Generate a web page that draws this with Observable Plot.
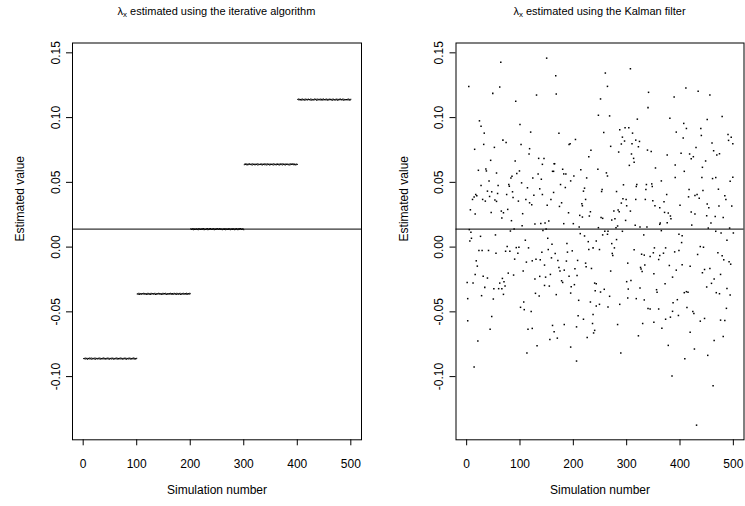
<!DOCTYPE html>
<html><head><meta charset="utf-8">
<script src="https://cdn.jsdelivr.net/npm/d3@7"></script>
<script src="https://cdn.jsdelivr.net/npm/@observablehq/plot@0.6"></script>
<style>
body{margin:0;background:#fff;font-family:"Liberation Sans",Arial,Helvetica,sans-serif;}
#wrap{position:relative;width:745px;height:506px;overflow:hidden;background:#fff}
.panel{position:absolute;top:0}
.title{position:absolute;top:5px;font-size:11px;line-height:13px;white-space:nowrap;transform:translateX(-50%);color:#000}
.title sub{font-size:0.72em;vertical-align:-0.3em;line-height:0}
</style></head>
<body><div id="wrap"></div>
<script>
// ---- data ----
const xTicks = [0, 100, 200, 300, 400, 500];
const yTicks = [-0.10, -0.05, 0.00, 0.05, 0.10, 0.15];
const simLimits = [-19.96, 519.96];
const yLimits = [-0.1488, 0.1576];
const referenceLine = 0.0139;
const titles = ["estimated using the iterative algorithm", "estimated using the Kalman filter"];
const xLabel = "Simulation number";
const yLabel = "Estimated value";

// iterative algorithm: 5 blocks of 100 simulations, level per block plus small read deviations (digit d -> (d-5)*0.00018)
const groupLevels = [-0.086, -0.036, 0.014, 0.064, 0.114];
const groupDeviations = [
  "5463745265 3746273546 3726453647 3625463746 2536473625 4637462536 4736254637 4625364736 2546374625 3647362546",
  "4537264536 5473645263 7453627456 3647253645 7364526374 5637426354 6374526347 5362745364 7253647354 6372546375",
  "6354726354 4635274635 5364725346 4725364735 3647253647 6354736452 5463725463 3746254637 4526374526 3647536452",
  "3647525364 7453627453 6354726354 4736254736 5263745263 6453726453 3746352746 5274635274 4635263746 5637425364",
  "5736452637 4526374536 6453726354 3746527364 4637526374 5364725364 7453627453 3647253647 6354726354 4536472536"
];

// Kalman filter estimates: [simulation, value]
const kalman = [
[64,0.1428],[150,0.1459],[4,0.1241],[62,0.1236],[49,0.1187],[131,0.1174],[92,0.1126],[24,0.0975],[27,0.0934],[100,0.0947],
[33,0.0880],[120,0.0888],[68,0.0826],[74,0.0808],[32,0.0793],[102,0.0793],[15,0.0755],[52,0.0770],[118,0.0760],[117,0.0718],
[135,0.0685],[145,0.0685],[45,0.0670],[91,0.0665],[142,0.0639],[164,0.0644],[22,0.0593],[36,0.0603],[37,0.0588],[56,0.0572],
[99,0.0588],[94,0.0568],[134,0.0565],[163,0.0585],
[307,0.1377],[167,0.1323],[260,0.1344],[264,0.1241],[168,0.1182],[341,0.1195],[251,0.1144],[340,0.1077],[247,0.1018],[268,0.1013],
[320,0.0988],[173,0.0880],[257,0.0885],[287,0.0906],[297,0.0921],[304,0.0921],[311,0.0880],[292,0.0849],[204,0.0831],[192,0.0793],
[194,0.0798],[296,0.0819],[317,0.0826],[324,0.0816],[290,0.0796],[310,0.0798],[270,0.0778],[322,0.0775],[233,0.0747],[339,0.0749],
[346,0.0739],[285,0.0734],[309,0.0719],[229,0.0698],[313,0.0685],[314,0.0655],[165,0.0644],[305,0.0631],[180,0.0601],[214,0.0598],
[246,0.0601],[161,0.0585],[182,0.0565],[186,0.0565],[262,0.0573],
[411,0.1228],[434,0.1203],[389,0.1159],[456,0.1174],[381,0.0995],[451,0.0985],[479,0.1008],[407,0.0955],[412,0.0916],[439,0.0916],
[393,0.0888],[440,0.0862],[490,0.0870],[496,0.0849],[406,0.0842],[491,0.0824],[499,0.0798],[460,0.0803],[430,0.0770],[463,0.0744],
[474,0.0721],[469,0.0711],[376,0.0711],[402,0.0724],[418,0.0719],[425,0.0698],[421,0.0683],[448,0.0665],[442,0.0616],[391,0.0634],
[408,0.0585],[354,0.0611],
[85,0.0547],[83,0.0534],[124,0.0534],[140,0.0524],[42,0.0511],[27,0.0476],[59,0.0476],[79,0.0483],[80,0.0470],[103,0.0496],
[114,0.0458],[137,0.0450],[163,0.0422],[39,0.0432],[47,0.0427],[58,0.0414],[75,0.0406],[86,0.0427],[17,0.0406],[19,0.0396],
[14,0.0386],[11,0.0368],[43,0.0391],[30,0.0368],[35,0.0355],[53,0.0363],[56,0.0353],[87,0.0383],[97,0.0355],[111,0.0368],
[126,0.0401],[118,0.0342],[122,0.0327],[142,0.0406],[151,0.0324],[158,0.0368],[7,0.0288],[16,0.0255],[46,0.0268],[65,0.0278],
[69,0.0265],[77,0.0291],[105,0.0258],[66,0.0224],[84,0.0204],[104,0.0165],[128,0.0178],[139,0.0183],[147,0.0186],[154,0.0201],
[5,0.0135],[8,0.0114],[9,0.0068],[6,0.0047],[82,0.0124],[89,0.0140],[143,0.0129],[149,0.0140],[54,0.0094],[26,0.0083],
[110,0.0053],[152,0.0068],[160,0.0022],[76,0.0004],[93,-0.0004],[98,-0.0001],[23,-0.0026],[29,-0.0026],[41,-0.0026],[73,-0.0032],
[81,-0.0032],[55,-0.0047],[96,-0.0047],[116,-0.0006],[141,-0.0039],[153,-0.0019],[90,-0.0093],[112,-0.0116],[130,-0.0093],[138,-0.0098],
[123,-0.0106],[18,-0.0106],[20,-0.0147],[146,-0.0139],[106,-0.0185],[78,-0.0201],[88,-0.0216],[16,-0.0211],[31,-0.0226],[39,-0.0239],
[67,-0.0242],[70,-0.0267],[137,-0.0226],[128,-0.0247],[148,-0.0232],[157,-0.0211],[1,-0.0273],[12,-0.0278],[62,-0.0278],[72,-0.0301],
[34,-0.0311],[51,-0.0321],[60,-0.0321],[66,-0.0321],[146,-0.0296],[155,-0.0301],[69,-0.0365],[129,-0.0357],[136,-0.0378],[28,-0.0375],
[2,-0.0398],[50,-0.0401],[107,-0.0424],[101,-0.0465],[108,-0.0483],
[201,0.0549],[225,0.0534],[264,0.0549],[195,0.0511],[176,0.0483],[185,0.0460],[221,0.0455],[219,0.0432],[254,0.0445],[253,0.0429],
[281,0.0429],[294,0.0481],[319,0.0483],[318,0.0468],[337,0.0483],[347,0.0488],[348,0.0468],[336,0.0445],[223,0.0368],[178,0.0342],
[216,0.0335],[217,0.0319],[174,0.0314],[293,0.0373],[299,0.0368],[290,0.0340],[300,0.0319],[317,0.0368],[335,0.0368],[349,0.0358],
[191,0.0265],[232,0.0273],[230,0.0240],[212,0.0245],[217,0.0232],[252,0.0229],[255,0.0222],[276,0.0278],[284,0.0286],[286,0.0273],
[307,0.0278],[272,0.0209],[278,0.0219],[298,0.0206],[182,0.0181],[200,0.0181],[283,0.0163],[280,0.0150],[211,0.0155],[316,0.0168],
[325,0.0155],[338,0.0155],[247,0.0150],[259,0.0122],[265,0.0122],[292,0.0122],[213,0.0104],[221,0.0086],[255,0.0094],[264,0.0099],
[332,0.0094],[281,0.0058],[243,0.0047],[228,0.0042],[272,0.0027],[188,0.0027],[277,-0.0006],[237,-0.0006],[249,-0.0019],[229,-0.0019],
[198,-0.0029],[189,-0.0039],[166,-0.0049],[273,-0.0049],[274,-0.0065],[314,-0.0021],[328,-0.0055],[333,-0.0062],[344,-0.0073],[350,-0.0044],
[159,-0.0083],[171,-0.0103],[187,-0.0108],[208,-0.0103],[223,-0.0124],[302,-0.0124],[224,-0.0152],[234,-0.0165],[203,-0.0167],[183,-0.0178],
[173,-0.0157],[175,-0.0185],[270,-0.0185],[334,-0.0139],[327,-0.0170],[329,-0.0188],[326,-0.0157],[351,-0.0206],[207,-0.0219],[192,-0.0226],
[178,-0.0260],[180,-0.0273],[308,-0.0257],[300,-0.0267],[202,-0.0290],[196,-0.0306],[243,-0.0283],[240,-0.0278],[325,-0.0316],[241,-0.0337],
[258,-0.0326],[251,-0.0347],[303,-0.0324],[195,-0.0355],[168,-0.0367],[268,-0.0380],[302,-0.0393],[318,-0.0398],[333,-0.0408],[210,-0.0411],
[232,-0.0424],[249,-0.0442],[243,-0.0455],[265,-0.0462],[287,-0.0442],[340,-0.0475],[344,-0.0478],
[391,0.0537],[441,0.0537],[461,0.0529],[467,0.0537],[499,0.0539],[494,0.0508],[365,0.0511],[417,0.0445],[443,0.0437],[472,0.0447],
[432,0.0406],[428,0.0399],[416,0.0388],[436,0.0378],[375,0.0406],[484,0.0396],[486,0.0368],[370,0.0350],[400,0.0324],[451,0.0332],
[454,0.0304],[473,0.0317],[497,0.0317],[353,0.0319],[362,0.0304],[371,0.0268],[378,0.0263],[421,0.0271],[428,0.0255],[382,0.0240],
[383,0.0219],[450,0.0242],[466,0.0237],[481,0.0229],[363,0.0186],[362,0.0176],[376,0.0188],[422,0.0170],[458,0.0186],[453,0.0147],
[493,0.0147],[365,0.0127],[467,0.0122],[477,0.0109],[500,0.0109],[398,0.0099],[404,0.0088],[488,0.0053],[403,0.0035],[438,0.0004],
[444,-0.0001],[433,-0.0057],[352,-0.0006],[373,-0.0006],[398,-0.0026],[390,-0.0037],[369,-0.0047],[362,-0.0065],[360,-0.0096],[471,-0.0044],
[479,-0.0067],[482,-0.0098],[492,-0.0114],[495,-0.0132],[380,-0.0142],[404,-0.0137],[419,-0.0147],[393,-0.0178],[446,-0.0173],[456,-0.0165],
[442,-0.0198],[476,-0.0211],[386,-0.0232],[464,-0.0247],[372,-0.0283],[459,-0.0280],[450,-0.0308],[488,-0.0319],[356,-0.0329],[357,-0.0349],
[408,-0.0352],[412,-0.0344],[415,-0.0349],[468,-0.0352],[474,-0.0360],[494,-0.0370],[395,-0.0406],[387,-0.0429],[360,-0.0478],[413,-0.0467],
[487,-0.0473],
[121,-0.0498],[2,-0.0569],[47,-0.0536],[44,-0.0634],[115,-0.0634],[123,-0.0628],[21,-0.0726],[161,-0.0605],[164,-0.0653],[156,-0.0713],
[132,-0.0762],[113,-0.0818],[14,-0.0926],
[209,-0.0531],[237,-0.0521],[219,-0.0557],[183,-0.0598],[206,-0.0616],[236,-0.0590],[283,-0.0598],[330,-0.0590],[351,-0.0580],[240,-0.0643],
[238,-0.0663],[170,-0.0703],[226,-0.0698],[322,-0.0685],[195,-0.0772],[289,-0.0818],[206,-0.0880],
[386,-0.0496],[424,-0.0498],[426,-0.0513],[373,-0.0557],[382,-0.0541],[397,-0.0528],[446,-0.0551],[438,-0.0572],[476,-0.0564],[484,-0.0567],
[366,-0.0626],[419,-0.0657],[481,-0.0690],[464,-0.0721],[378,-0.0759],[427,-0.0787],[452,-0.0836],[409,-0.0862],[385,-0.0995],[462,-0.1071],
[431,-0.1375]
];

// ---- build tables ----
const iterative = [];
groupDeviations.forEach((s, g) => {
  [...s.replace(/ /g, "")].forEach((c, i) => {
    iterative.push({sim: g * 100 + i + 1, value: groupLevels[g] + (Number(c) - 5) * 0.00018});
  });
});
const kalmanData = kalman.map(([sim, value]) => ({sim, value}));

const FONT = "'Liberation Sans', Arial, Helvetica, sans-serif";
const wrap = document.getElementById("wrap");

function panel({data, left, width, marginLeft, marginRight, title, r}) {
  const svg = Plot.plot({
    width, height: 506,
    marginLeft, marginRight, marginTop: 42.5, marginBottom: 66.7,
    x: {domain: simLimits},
    y: {domain: yLimits},
    style: {fontFamily: FONT, fontSize: "12px", color: "black", background: "white", overflow: "visible"},
    marks: [
      Plot.ruleY([referenceLine], {stroke: "black", strokeWidth: 1}),
      Plot.dot(data, {x: "sim", y: "value", r, symbol: "square", fill: "black", stroke: "none"}),
      Plot.frame({stroke: "black", strokeWidth: 1}),
      Plot.axisX(xTicks, {tickSize: 6, tickPadding: 14, tickFormat: d => String(d), label: null, fontSize: 12}),
      Plot.axisY(yTicks, {tickSize: 6, tickPadding: 7, tickRotate: -90, tickFormat: d => d.toFixed(2), label: null, fontSize: 12}),
      Plot.text([xLabel], {text: d => d, frameAnchor: "bottom", dy: 54.5, fontSize: 12}),
      Plot.text([yLabel], {text: d => d, frameAnchor: "left", rotate: -90, dx: -52, fontSize: 12})
    ]
  });
  const div = document.createElement("div");
  div.className = "panel";
  div.style.left = left + "px";
  div.appendChild(svg);
  wrap.appendChild(div);
  const t = document.createElement("div");
  t.className = "title";
  const boxCenter = left + marginLeft + (width - marginLeft - marginRight) / 2;
  t.style.left = boxCenter + "px";
  t.innerHTML = "λ<sub>x</sub> " + title;
  wrap.appendChild(t);
}

panel({data: iterative, left: 0, width: 372, marginLeft: 72, marginRight: 11, title: titles[0], r: 0.6});
panel({data: kalmanData, left: 372, width: 373, marginLeft: 83.5, marginRight: 1.5, title: titles[1], r: 0.85});
</script>
</body></html>
